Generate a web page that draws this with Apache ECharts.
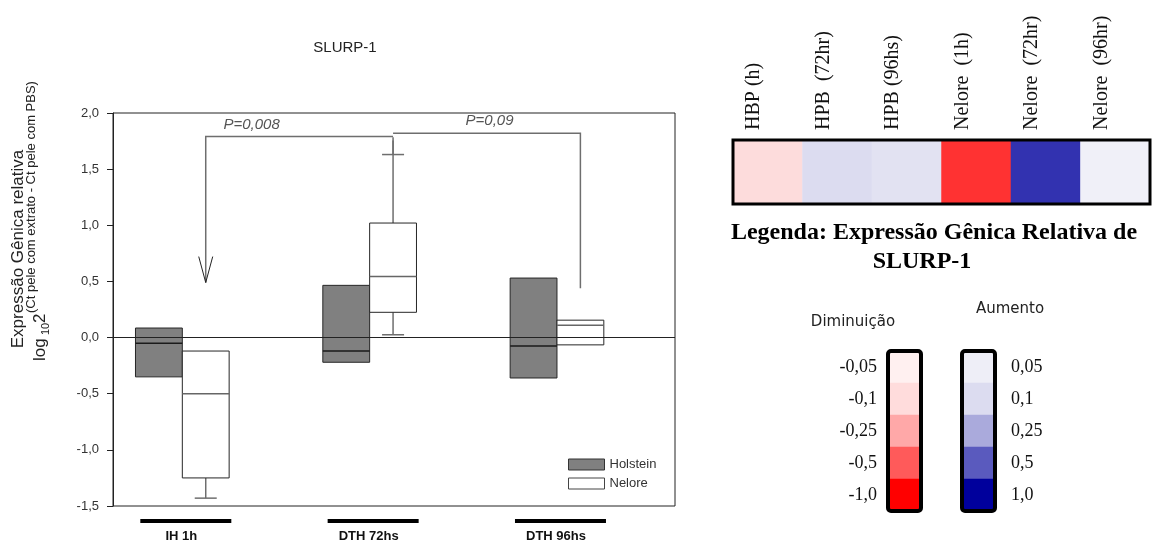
<!DOCTYPE html>
<html>
<head>
<meta charset="utf-8">
<script src="https://cdn.jsdelivr.net/npm/echarts@6/dist/echarts.min.js"></script>
<style>
  html, body { margin: 0; padding: 0; background: #fff; }
  #chart { width: 1152px; height: 552px; }
</style>
</head>
<body>
<div id="chart"></div>
<script>
// boxplot data: [min, q1, median, q3, max] per category
const categories = ['IH 1h', 'DTH 72hs', 'DTH 96hs']
const holstein = [
  [-0.35, -0.35, -0.05, 0.085, 0.085],
  [-0.22, -0.22, -0.12, 0.465, 0.465],
  [-0.36, -0.36, -0.075, 0.53, 0.53]
]
const nelore = [
  [-1.43, -1.25, -0.50, -0.12, -0.12],
  [0.025, 0.225, 0.545, 1.02, 1.63],
  [-0.065, -0.065, 0.11, 0.155, 0.155]
]

// p-value brackets (Nelore boxes): shared end, other end
const pLabels = ['P=0,008', 'P=0,09']
const pFrom = [1, 1]
const pTo = [0, 2]
const pLineY = [1.79, 1.82]
const pEndY = [0.49, 0.44]
const pLabelX = [1.37, 2.64]
const pArrow = [true, false]

// heatmap strip
const heatCategories = ['HBP (h)', 'HPB  (72hr)', 'HPB (96hs)', 'Nelore  (1h)', 'Nelore  (72hr)', 'Nelore  (96hr)']
const heatValues = [-0.1, 0.1, 0.09, -0.8, 0.8, 0.05]

// colour legend bars
const decreaseLabels = ['-0,05', '-0,1', '-0,25', '-0,5', '-1,0']
const decreaseValues = [-0.05, -0.1, -0.25, -0.5, -1.0]
const increaseLabels = ['0,05', '0,1', '0,25', '0,5', '1,0']
const increaseValues = [0.05, 0.1, 0.25, 0.5, 1.0]

const BOX_W = 0.25
const Y_MIN = -1.5
const SANS = '"Liberation Sans", Arial, sans-serif'
const SERIF = '"Liberation Serif", "Times New Roman", serif'

function boxRenderer(side, fill, medianColor) {
  return function(params, api) {
    const x = api.value(0)
    const x0 = side < 0 ? x - BOX_W : x
    const x1 = x0 + BOX_W
    const xc = x0 + BOX_W / 2
    const lo = api.coord([x0, api.value(2)])
    const hi = api.coord([x1, api.value(4)])
    const med = api.coord([x0, api.value(3)])
    const children = []
    const wStyle = { stroke: '#6e6e6e', lineWidth: 1.5 }
    if (api.value(5) > api.value(4)) {
      const top = api.coord([xc, api.value(5)])
      children.push({ type: 'line', shape: { x1: top[0], y1: hi[1], x2: top[0], y2: top[1] }, style: wStyle })
      children.push({ type: 'line', shape: { x1: top[0] - 11, y1: top[1], x2: top[0] + 11, y2: top[1] }, style: wStyle })
    }
    if (api.value(1) < api.value(2)) {
      const bot = api.coord([xc, api.value(1)])
      children.push({ type: 'line', shape: { x1: bot[0], y1: lo[1], x2: bot[0], y2: bot[1] }, style: wStyle })
      children.push({ type: 'line', shape: { x1: bot[0] - 11, y1: bot[1], x2: bot[0] + 11, y2: bot[1] }, style: wStyle })
    }
    children.push({
      type: 'rect',
      shape: { x: lo[0], y: hi[1], width: hi[0] - lo[0], height: lo[1] - hi[1] },
      style: { fill: fill, stroke: '#262626', lineWidth: 1 }
    })
    children.push({
      type: 'line',
      shape: { x1: lo[0], y1: med[1], x2: hi[0], y2: med[1] },
      style: { stroke: medianColor, lineWidth: 1.5 }
    })
    return { type: 'group', children: children }
  }
}

function renderCategory(params, api) {
  const p = api.coord([api.value(0), Y_MIN])
  return {
    type: 'group',
    children: [
      { type: 'line', shape: { x1: p[0] - 42, y1: p[1] + 15, x2: p[0] + 49, y2: p[1] + 15 }, style: { stroke: '#000', lineWidth: 4 } },
      { type: 'text', x: p[0] - 1, y: p[1] + 30, style: { text: categories[params.dataIndex], font: 'bold 13px ' + SANS, fill: '#111', align: 'center', verticalAlign: 'middle' } }
    ]
  }
}

function renderBracket(params, api) {
  const i = params.dataIndex
  const xFrom = pFrom[i] + 1 + BOX_W / 2
  const xTo = pTo[i] + 1 + BOX_W / 2
  const a = api.coord([xFrom, pLineY[i]])
  const b = api.coord([xTo, pLineY[i]])
  const c = api.coord([xTo, pEndY[i]])
  const lbl = api.coord([pLabelX[i], pLineY[i]])
  const stub = api.coord([xFrom, nelore[pFrom[i]][4]])
  const st = { stroke: '#6e6e6e', lineWidth: 1.5, fill: null }
  const children = [
    { type: 'polyline', shape: { points: [a, b, c] }, style: st },
    { type: 'line', shape: { x1: a[0], y1: a[1] + 4, x2: stub[0], y2: stub[1] }, style: st },
    { type: 'text', x: lbl[0], y: lbl[1] - 12, style: { text: pLabels[i], font: 'italic 15px ' + SANS, fill: '#555', align: 'center', verticalAlign: 'middle' } }
  ]
  if (pArrow[i]) {
    children.push({ type: 'polyline', shape: { points: [[c[0] - 7, c[1] - 26], c, [c[0] + 7, c[1] - 26]] }, style: { stroke: '#222', lineWidth: 1, fill: null } })
  }
  return { type: 'group', children: children }
}

const chart = echarts.init(document.getElementById('chart'), null, { renderer: 'canvas' })

const gridFrame = (g, w) => ({
  type: 'rect', z: 100, silent: true,
  shape: { x: g.left, y: g.top, width: g.width, height: g.height, r: w > 3 ? 3 : 0 },
  style: { fill: null, stroke: '#000', lineWidth: w }
})
const stripGrid = { left: 733, top: 140, width: 417, height: 64 }
const decGrid = { left: 888, top: 351, width: 33, height: 160 }
const incGrid = { left: 962, top: 351, width: 33, height: 160 }

chart.setOption({
  animation: false,
  backgroundColor: '#fff',
  textStyle: { fontFamily: SANS },
  grid: [
    { left: 113, top: 113, width: 562, height: 393, show: true, borderColor: '#222', borderWidth: 1, outerBoundsMode: 'none' },
    Object.assign({ outerBoundsMode: 'none' }, stripGrid),
    Object.assign({ outerBoundsMode: 'none' }, decGrid),
    Object.assign({ outerBoundsMode: 'none' }, incGrid)
  ],
  legend: {
    data: [
      { name: 'Holstein', itemStyle: { color: '#808080', borderColor: '#333', borderWidth: 1 } },
      { name: 'Nelore', itemStyle: { color: '#fff', borderColor: '#444', borderWidth: 1 } }
    ],
    orient: 'vertical',
    left: 563,
    top: 453,
    icon: 'rect',
    itemWidth: 36,
    itemHeight: 11,
    itemGap: 6,
    selectedMode: false,
    textStyle: { fontFamily: SANS, fontSize: 13, color: '#333' }
  },
  xAxis: [
    { type: 'value', gridIndex: 0, min: 0.63, max: 3.63, show: false },
    {
      type: 'category', gridIndex: 1, data: heatCategories, position: 'top',
      axisLine: { show: false }, axisTick: { show: false }, splitLine: { show: false },
      axisLabel: { rotate: -90, interval: 0, margin: 10, fontFamily: SERIF, fontSize: 20, color: '#111', lineHeight: 28, verticalAlign: 'bottom' }
    },
    { type: 'category', gridIndex: 2, data: [''], show: false },
    { type: 'category', gridIndex: 3, data: [''], show: false }
  ],
  yAxis: [
    {
      type: 'value', gridIndex: 0, min: Y_MIN, max: 2, interval: 0.5,
      axisLine: { show: true, lineStyle: { color: '#222' } },
      axisTick: { show: true, length: 6, lineStyle: { color: '#222' } },
      splitLine: { show: false },
      axisLabel: { formatter: v => v.toFixed(1).replace('.', ','), fontFamily: SANS, fontSize: 13, color: '#333', margin: 14 }
    },
    { type: 'category', gridIndex: 1, data: ['SLURP-1'], show: false },
    {
      type: 'category', gridIndex: 2, data: decreaseLabels, inverse: true, position: 'left',
      axisLine: { show: false }, axisTick: { show: false },
      axisLabel: { fontFamily: SERIF, fontSize: 18, color: '#111', margin: 11 }
    },
    {
      type: 'category', gridIndex: 3, data: increaseLabels, inverse: true, position: 'right',
      axisLine: { show: false }, axisTick: { show: false },
      axisLabel: { fontFamily: SERIF, fontSize: 18, color: '#111', margin: 16 }
    }
  ],
  visualMap: [
    {
      type: 'piecewise', show: false, seriesIndex: 5,
      pieces: [
        { lt: -0.5, color: '#ff3232' },
        { gte: -0.5, lt: -0.075, color: '#fddcdc' },
        { gte: -0.075, lt: 0.075, color: '#f0f0f8' },
        { gte: 0.075, lt: 0.095, color: '#e2e2f2' },
        { gte: 0.095, lt: 0.5, color: '#dcdcf0' },
        { gte: 0.5, color: '#3232b0' }
      ]
    },
    {
      type: 'piecewise', show: false, seriesIndex: [6, 7],
      pieces: [
        { value: -0.05, color: '#fff0f0' },
        { value: -0.1, color: '#ffdcdc' },
        { value: -0.25, color: '#ffa8a8' },
        { value: -0.5, color: '#ff5a5a' },
        { value: -1.0, color: '#ff0000' },
        { value: 0.05, color: '#eeeef7' },
        { value: 0.1, color: '#dcdcf0' },
        { value: 0.25, color: '#aaaadc' },
        { value: 0.5, color: '#5a5abe' },
        { value: 1.0, color: '#00009c' }
      ]
    }
  ],
  series: [
    {
      name: 'Holstein', type: 'custom', xAxisIndex: 0, yAxisIndex: 0, z: 2,
      itemStyle: { color: '#808080' },
      encode: { x: 0, y: [1, 2, 3, 4, 5] },
      data: holstein.map((d, i) => [i + 1].concat(d)),
      renderItem: boxRenderer(-1, '#808080', '#1a1a1a')
    },
    {
      name: 'Nelore', type: 'custom', xAxisIndex: 0, yAxisIndex: 0, z: 2,
      itemStyle: { color: '#fff' },
      encode: { x: 0, y: [1, 2, 3, 4, 5] },
      data: nelore.map((d, i) => [i + 1].concat(d)),
      renderItem: boxRenderer(1, '#fff', '#666')
    },
    {
      type: 'custom', xAxisIndex: 0, yAxisIndex: 0, silent: true, clip: false,
      encode: { x: 0 },
      data: categories.map((c, i) => [i + 1]),
      renderItem: renderCategory
    },
    {
      type: 'custom', xAxisIndex: 0, yAxisIndex: 0, silent: true, z: 3,
      encode: { x: 0, y: 1 },
      data: pLabels.map((l, i) => [pLabelX[i], pLineY[i]]),
      renderItem: renderBracket
    },
    {
      type: 'line', xAxisIndex: 0, yAxisIndex: 0, data: [], z: 5, silent: true,
      markLine: {
        symbol: ['none', 'none'], silent: true, label: { show: false },
        lineStyle: { color: '#222', width: 1, type: 'solid' },
        data: [{ yAxis: 0 }]
      }
    },
    {
      type: 'heatmap', xAxisIndex: 1, yAxisIndex: 1,
      data: heatValues.map((v, i) => [i, 0, v])
    },
    {
      type: 'heatmap', xAxisIndex: 2, yAxisIndex: 2,
      data: decreaseValues.map((v, i) => [0, i, v])
    },
    {
      type: 'heatmap', xAxisIndex: 3, yAxisIndex: 3,
      data: increaseValues.map((v, i) => [0, i, v])
    }
  ],
  graphic: [
    { type: 'text', x: 345, y: 48, style: { text: 'SLURP-1', font: '15px ' + SANS, fill: '#222', align: 'center', verticalAlign: 'middle' } },
    { type: 'text', x: 18, y: 249, rotation: Math.PI / 2, style: { text: 'Expressão Gênica relativa', font: '17px ' + SANS, fill: '#222', align: 'center', verticalAlign: 'middle' } },
    { type: 'text', x: 40, y: 361, rotation: Math.PI / 2, style: { text: 'log', font: '17px ' + SANS, fill: '#222', align: 'left', verticalAlign: 'middle' } },
    { type: 'text', x: 46, y: 335, rotation: Math.PI / 2, style: { text: '10', font: '11px ' + SANS, fill: '#222', align: 'left', verticalAlign: 'middle' } },
    { type: 'text', x: 40, y: 323, rotation: Math.PI / 2, style: { text: '2', font: '17px ' + SANS, fill: '#222', align: 'left', verticalAlign: 'middle' } },
    { type: 'text', x: 31, y: 313, rotation: Math.PI / 2, style: { text: '(Ct pele com extrato - Ct pele com PBS)', font: '13px ' + SANS, fill: '#222', align: 'left', verticalAlign: 'middle' } },
    gridFrame(stripGrid, 3),
    gridFrame(decGrid, 4),
    gridFrame(incGrid, 4),
    { type: 'text', x: 934, y: 233, style: { text: 'Legenda: Expressão Gênica Relativa de', font: 'bold 24px ' + SERIF, fill: '#000', align: 'center', verticalAlign: 'middle' } },
    { type: 'text', x: 922, y: 262, style: { text: 'SLURP-1', font: 'bold 24px ' + SERIF, fill: '#000', align: 'center', verticalAlign: 'middle' } },
    { type: 'text', x: 853, y: 322, style: { text: 'Diminuição', font: '15px "DejaVu Sans", sans-serif', fill: '#222', align: 'center', verticalAlign: 'middle' } },
    { type: 'text', x: 1010, y: 309, style: { text: 'Aumento', font: '15px "DejaVu Sans", sans-serif', fill: '#222', align: 'center', verticalAlign: 'middle' } }
  ]
})
</script>
</body>
</html>
